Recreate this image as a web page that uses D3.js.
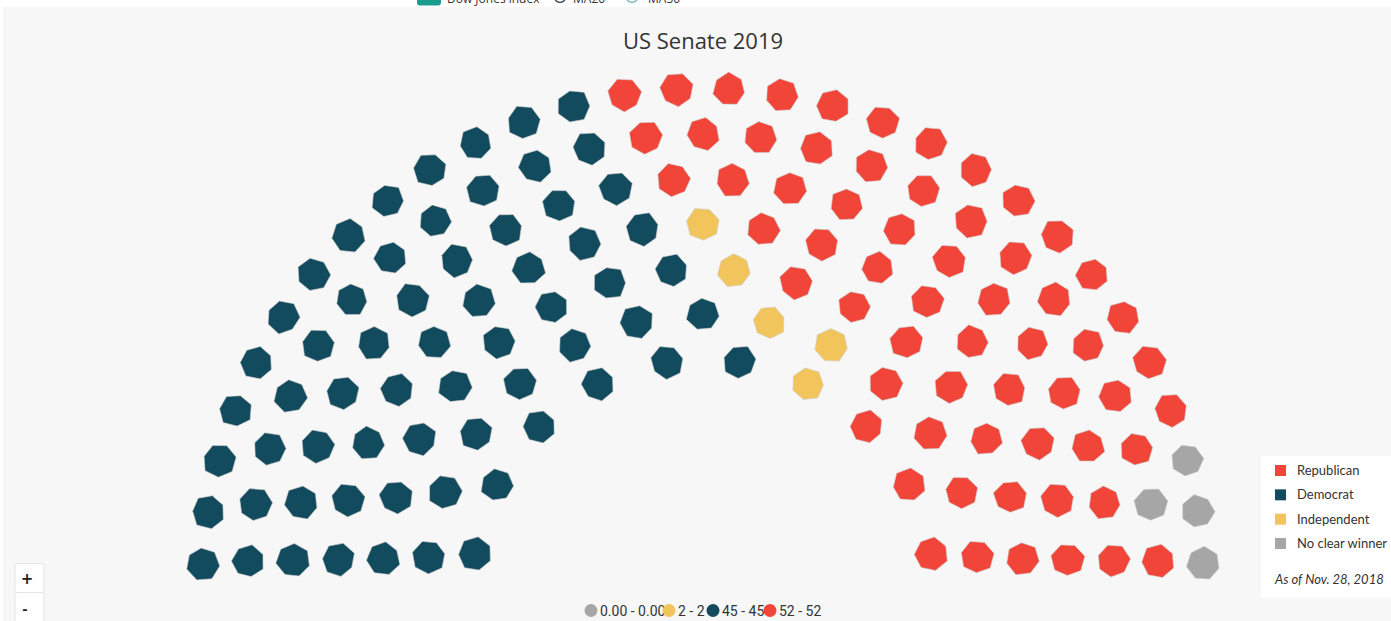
<!DOCTYPE html>
<html lang="en">
<head>
    <meta charset="UTF-8">
    <title>US Senate 2019</title>
    <script src="https://d3js.org/d3.v7.min.js"></script>
    <style>
        body { margin: 0; background: #fff; }
        svg { display: block; }
        .title { font-family: "Open Sans", sans-serif; font-size: 22px; fill: #333; }
        .leg text { font-family: Lato, sans-serif; font-size: 13px; fill: #333; }
        .classes text { font-family: Roboto, sans-serif; font-size: 14px; fill: #333; }
        .top-legend text { font-family: "Open Sans", sans-serif; font-size: 12px; fill: #333; }
    </style>
</head>
<body>
    <div id="chart"></div>
    <script>
        // seats per ring, outer ring first
        var ringCounts = [30, 25, 22, 19, 16, 13, 10];
        // party of every seat, left to right: D democrat, R republican, I independent, G no clear winner
        var ringParties = [
            "DDDDDDDDDDDDDRRRRRRRRRRRRRRGGG",
            "DDDDDDDDDDDRRRRRRRRRRRRGR",
            "DDDDDDDDDDRRRRRRRRRRRR",
            "DDDDDDDDDIRRRRRRRRR",
            "DDDDDDDDIRRRRRRR",
            "DDDDDDDIIRRRR",
            "DDDDDDIRRR"
        ];
        var partyCodes = ["R", "D", "I", "G"];
        var partyNames = ["Republican", "Democrat", "Independent", "No clear winner"];
        var classLabels = ["0.00 - 0.00", "2 - 2", "45 - 45", "52 - 52"];
        var classCodes = ["G", "I", "D", "R"];
        var topLegend = ["Dow Jones index", "MA20", "MA50"];

        var W = 1391, H = 621;
        var cx = 703, cy = 590;

        var color = d3.scaleOrdinal()
            .domain(partyCodes)
            .range(["#f04538", "#134b5e", "#f2c55c", "#a6a6a6"]);

        var radius = d3.scaleLinear()
            .domain([0, ringCounts.length - 1])
            .range([501, 231]);

        var seats = [];
        ringParties.forEach(function (row, ri) {
            var angle = d3.scaleLinear().domain([0, ringCounts[ri]]).range([Math.PI, 0]);
            row.split("").forEach(function (p, i) {
                var a = angle(i + 0.5), r = radius(ri);
                seats.push({ party: p, x: cx + r * Math.cos(a), y: cy - r * Math.sin(a), k: seats.length });
            });
        });

        var svg = d3.select("#chart").append("svg")
            .attr("width", W).attr("height", H);

        // cut-off legend of the chart above
        var tl = svg.append("g").attr("class", "top-legend");
        tl.append("rect").attr("x", 417).attr("y", -8).attr("width", 24).attr("height", 13.5)
            .attr("rx", 3).attr("fill", "#1a9c8c");
        tl.append("text").attr("x", 447).attr("y", 3).text(topLegend[0]);
        tl.append("circle").attr("cx", 560).attr("cy", -3).attr("r", 5.5)
            .attr("fill", "#fff").attr("stroke", "#4d5a66").attr("stroke-width", 1.5);
        tl.append("text").attr("x", 573).attr("y", 3).text(topLegend[1]);
        tl.append("circle").attr("cx", 632).attr("cy", -3).attr("r", 5.5)
            .attr("fill", "#fff").attr("stroke", "#86bcc4").attr("stroke-width", 1.5);
        tl.append("text").attr("x", 648).attr("y", 3).text(topLegend[2]);

        svg.append("rect").attr("x", 3).attr("y", 7).attr("width", W - 3).attr("height", H - 7)
            .attr("fill", "#f7f7f7");

        svg.append("text").attr("class", "title")
            .attr("x", cx).attr("y", 49).attr("text-anchor", "middle")
            .text("US Senate 2019");

        // slightly uneven heptagons, like the map shapes
        function jit(n) { var s = Math.sin(n * 127.1 + 3.7) * 43758.5453; return s - Math.floor(s); }
        var poly = d3.line().curve(d3.curveLinearClosed);
        function seatPath(d) {
            var rot = jit(d.k) * Math.PI * 2 / 7, pts = [];
            for (var j = 0; j < 7; j++) {
                var a = rot + j * Math.PI * 2 / 7;
                var rr = 16.8 * (0.92 + 0.13 * jit(d.k * 7 + j + 11));
                pts.push([d.x + rr * Math.cos(a), d.y + rr * Math.sin(a)]);
            }
            return poly(pts);
        }

        svg.append("g").selectAll("path")
            .data(seats)
            .enter().append("path")
            .attr("d", seatPath)
            .attr("fill", function (d) { return color(d.party); })
            .attr("stroke", "#cfcfcf")
            .attr("stroke-width", 0.6);

        // zoom buttons
        var nav = svg.append("g");
        nav.append("rect").attr("x", 15).attr("y", 563.5).attr("width", 29).attr("height", 29)
            .attr("rx", 2).attr("fill", "#fff").attr("stroke", "#e3e3e3");
        nav.append("rect").attr("x", 15).attr("y", 592.5).attr("width", 29).attr("height", 32)
            .attr("rx", 2).attr("fill", "#fff").attr("stroke", "#e3e3e3");
        nav.append("text").attr("x", 27).attr("y", 584).attr("text-anchor", "middle")
            .style("font", "bold 15px 'DejaVu Sans', sans-serif").attr("fill", "#222").text("+");
        nav.append("text").attr("x", 25).attr("y", 614).attr("text-anchor", "middle")
            .style("font", "bold 13px 'DejaVu Sans', sans-serif").attr("fill", "#222").text("-");

        // data class legend at the bottom
        var classX = [591, 669, 713, 770];
        var cl = svg.append("g").attr("class", "classes");
        classLabels.forEach(function (t, i) {
            cl.append("text").attr("x", classX[i] + 9).attr("y", 615.5).text(t);
        });
        classLabels.forEach(function (t, i) {
            cl.append("circle").attr("cx", classX[i]).attr("cy", 610.5).attr("r", 6.5)
                .attr("fill", color(classCodes[i]));
        });

        // party legend box
        var leg = svg.append("g").attr("class", "leg");
        leg.append("rect").attr("x", 1261).attr("y", 456).attr("width", 140).attr("height", 142)
            .attr("fill", "#fff");
        var legY = d3.scaleLinear().domain([0, 3]).range([470.5, 543.5]);
        partyNames.forEach(function (n, i) {
            leg.append("rect").attr("x", 1275).attr("y", legY(i) - 5.5).attr("width", 11).attr("height", 11)
                .attr("fill", color(partyCodes[i]));
            leg.append("text").attr("x", 1297).attr("y", legY(i) + 4.5).text(n);
        });
        leg.append("text").attr("x", 1275).attr("y", 584)
            .style("font-style", "italic").attr("fill", "#444")
            .text("As of Nov. 28, 2018");
    </script>
</body>
</html>
